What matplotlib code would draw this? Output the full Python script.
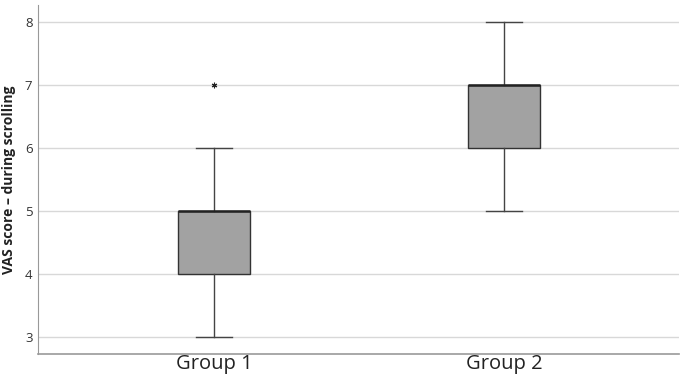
import matplotlib
matplotlib.use("Agg")
import matplotlib.pyplot as plt

plt.rcParams['font.family'] = ['Open Sans', 'DejaVu Sans']

groups = ["Group 1", "Group 2"]
whislo = [3, 5]
q1 = [4, 6]
med = [5, 7]
q3 = [5, 7]
whishi = [6, 8]
outliers = [[7], []]
yticks = [3, 4, 5, 6, 7, 8]

stats = []
for i, g in enumerate(groups):
    stats.append(dict(label=g, whislo=whislo[i], q1=q1[i], med=med[i],
                      q3=q3[i], whishi=whishi[i], fliers=outliers[i]))

fig = plt.figure(figsize=(6.85, 3.8), dpi=100)
ax = fig.add_axes([38/685, 1-354/380, (679-38)/685, (354-5)/380])

ax.set_axisbelow(True)
ax.yaxis.grid(True, color="#d8d8d8", linewidth=1.0)
ax.bxp(stats, positions=[1, 2], widths=0.248, patch_artist=True,
       boxprops=dict(facecolor="#a2a2a2", edgecolor="#333333", linewidth=1.0),
       medianprops=dict(color="#222222", linewidth=1.8),
       whiskerprops=dict(color="#444444", linewidth=1.0),
       capprops=dict(color="#444444", linewidth=1.0),
       capwidths=0.124,
       flierprops=dict(marker=(6, 2, 0), markersize=4, markeredgecolor="#222222",
                       markeredgewidth=0.8, linestyle="none"))

ax.set_xlim(0.393, 2.603)
ax.set_ylim(2.73, 8.27)
ax.set_yticks(yticks)
ax.set_yticklabels([str(t) for t in yticks], fontsize=9.5, color="#333333")
ax.set_xticks([1, 2])
ax.set_xticklabels(groups, fontsize=14.5, color="#222222")
ax.tick_params(axis="both", length=0)
ax.tick_params(axis="y", pad=4)
ax.tick_params(axis="x", pad=0)
ax.set_ylabel("VAS score – during scrolling", fontsize=10, fontweight="bold",
              color="#222222", labelpad=6)
for s in ["top", "right"]:
    ax.spines[s].set_visible(False)
ax.spines["left"].set_color("#999999")
ax.spines["bottom"].set_color("#999999")
ax.spines["bottom"].set_linewidth(1.2)

fig.savefig("out.png", dpi=100)
